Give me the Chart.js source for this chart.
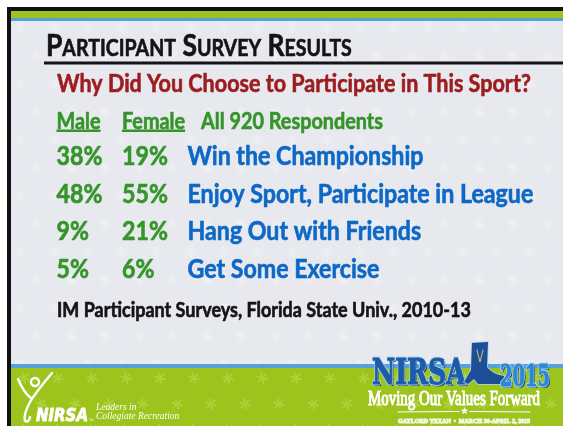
<!DOCTYPE html>
<html><head><meta charset="utf-8">
<script src="https://cdn.jsdelivr.net/npm/chart.js@4.4.1/dist/chart.umd.min.js"></script>
<style>html,body{margin:0;padding:0;background:#fff;overflow:hidden}#wrap{width:563px;height:426px}canvas{display:block}</style>
</head><body><div id="wrap"><canvas id="c" width="563" height="426"></canvas></div>
<script>
// ---------- data ----------
const titleText = 'Participant Survey Results';
const questionText = 'Why Did You Choose to Participate in This Sport?';
const columnLabels = ['Male', 'Female', 'All 920 Respondents'];
const reasons = ['Win the Championship', 'Enjoy Sport, Participate in League', 'Hang Out with Friends', 'Get Some Exercise'];
const malePct = [38, 48, 9, 5];
const femalePct = [19, 55, 21, 6];
const sourceText = 'IM Participant Surveys, Florida State Univ., 2010-13';

// ---------- style ----------
const FAM = 'Lato, "Open Sans", sans-serif';
const GREEN = '#35952a', BLUE = '#0d68c6', RED = '#9c1c1f', INK = '#141414';
const BG = '#e7e9ee', LIME = '#9cc41d', SKY = '#56a0db';
const SY = 1.12; // vertical stretch to mimic the taller original face
const BOLDEN = 0.55;

const mctx = document.createElement('canvas').getContext('2d');
function fit(text, weight, family, width) {
  mctx.font = `${weight} 100px ${family}`;
  return 100 * width / mctx.measureText(text).width;
}
function capText(ctx, text, x, yC, font, color) {
  ctx.font = font; ctx.fillStyle = color; ctx.strokeStyle = color; ctx.lineWidth = BOLDEN; ctx.lineJoin = 'round';
  ctx.textAlign = 'left'; ctx.textBaseline = 'alphabetic';
  const capH = ctx.measureText('H').actualBoundingBoxAscent * SY;
  ctx.save(); ctx.translate(x, yC + capH / 2); ctx.scale(1, SY);
  ctx.fillText(text, 0, 0); ctx.strokeText(text, 0, 0); ctx.restore();
  return ctx.measureText(text).width;
}
function smallCaps(ctx, text, x, yC, size, ratio, family, color, draw) {
  ctx.save();
  ctx.fillStyle = color; ctx.strokeStyle = color; ctx.lineWidth = BOLDEN; ctx.lineJoin = 'round';
  ctx.textAlign = 'left'; ctx.textBaseline = 'alphabetic';
  ctx.font = `bold ${size}px ${family}`;
  const capH = ctx.measureText('H').actualBoundingBoxAscent * SY;
  ctx.translate(0, yC + capH / 2); ctx.scale(1, SY);
  let cx = x;
  const put = (s) => { if (draw) { ctx.fillText(s, cx, 0); ctx.strokeText(s, cx, 0); } cx += ctx.measureText(s).width; };
  text.split(' ').forEach((w, wi) => {
    ctx.font = `bold ${size}px ${family}`;
    if (wi > 0) cx += ctx.measureText(' ').width;
    put(w[0].toUpperCase());
    ctx.font = `bold ${size * ratio}px ${family}`;
    put(w.slice(1).toUpperCase());
  });
  ctx.restore();
  return cx - x;
}
const SC_RATIO = 0.74;
const titleSize = 100 * 306 / smallCaps(mctx, titleText, 0, 0, 100, SC_RATIO, FAM, '#000', false);
const questionSize = fit(questionText, 'bold', FAM, 474);
const rowSize = fit(reasons[1], 'bold', FAM, 346);
const headSize = fit(columnLabels[2], 'bold', FAM, 182);
const sourceSize = fit(sourceText, 'bold', FAM, 414);

function star(ctx, x, y, r) {
  ctx.beginPath();
  for (let k = 0; k < 3; k++) {
    const a = k * Math.PI / 3 + 0.3;
    ctx.moveTo(x - r * Math.cos(a), y - r * Math.sin(a));
    ctx.lineTo(x + r * Math.cos(a), y + r * Math.sin(a));
  }
  ctx.stroke();
}
function star5(ctx, x, y, R, r) {
  ctx.beginPath();
  for (let k = 0; k < 10; k++) {
    const a = -Math.PI / 2 + k * Math.PI / 5, rr = k % 2 ? r : R;
    ctx.lineTo(x + rr * Math.cos(a), y + rr * Math.sin(a));
  }
  ctx.closePath(); ctx.fill();
}

const slidePlugin = {
  id: 'slide',
  beforeDraw(chart) {
    const ctx = chart.ctx, W = chart.width, H = chart.height;
    ctx.save();
    ctx.fillStyle = '#fff'; ctx.fillRect(0, 0, W, H);
    ctx.fillStyle = '#111'; ctx.fillRect(7, 7, W - 7, H - 7);
    ctx.fillStyle = BG; ctx.fillRect(11, 11, W - 11, H - 11);
    // faint pattern on body
    ctx.strokeStyle = 'rgba(255,255,255,0.28)'; ctx.lineWidth = 2; ctx.lineCap = 'round';
    for (let r = 0, y = 28; y < 370; y += 28, r++)
      for (let x = 20 + (r % 2) * 17; x < W; x += 34) star(ctx, x, y, 5);
    // top bands
    ctx.fillStyle = LIME; ctx.fillRect(11, 11, W - 11, 7);
    ctx.fillStyle = SKY; ctx.fillRect(11, 18, W - 11, 3);
    // bottom bands
    ctx.fillStyle = SKY; ctx.fillRect(11, 364, W - 11, 4);
    ctx.fillStyle = LIME; ctx.fillRect(11, 368, W - 11, H - 368);
    ctx.strokeStyle = 'rgba(185,220,80,0.55)';
    for (let r = 0, y = 378; y < H + 10; y += 26, r++)
      for (let x = 24 + (r % 2) * 17; x < W; x += 34) star(ctx, x, y, 5);
    ctx.restore();
  },
  afterDatasetsDraw(chart) {
    const ctx = chart.ctx, xs = chart.scales.x, ys = chart.scales.y;
    const col = k => xs.getPixelForValue(k);
    const row = k => ys.getPixelForValue(k);
    ctx.save();
    // title
    const ty = row(-2);
    smallCaps(ctx, titleText, col(0) - 10, ty, titleSize, SC_RATIO, FAM, INK, true);
    ctx.fillStyle = INK; ctx.fillRect(col(0) - 12, ty + 16.5, chart.width, 3);
    // question
    capText(ctx, questionText, col(0) + 1, row(-1) + 1.5, `bold ${questionSize}px ${FAM}`, RED);
    // header
    const hy = row(0) + 1;
    columnLabels.forEach((lab, k) => {
      const x = col(k) + (k === 2 ? 14 : 0.5);
      const w = capText(ctx, lab, x, hy, `bold ${headSize}px ${FAM}`, GREEN);
      if (k < 2) { ctx.fillStyle = GREEN; ctx.fillRect(x, hy + 8.5, w, 2.5); }
    });
    // table cells from the dataset elements
    const texts = [malePct.map(v => v + '%'), femalePct.map(v => v + '%'), reasons];
    const colors = [GREEN, GREEN, BLUE];
    chart.data.datasets.forEach((ds, di) => {
      chart.getDatasetMeta(di).data.forEach((el, i) => {
        capText(ctx, texts[di][i], el.x + 0.5, el.y - 2, `bold ${rowSize}px ${FAM}`, colors[di]);
      });
    });
    // source
    capText(ctx, sourceText, col(0) + 1, row(5) + 2, `bold ${sourceSize}px ${FAM}`, INK);
    ctx.restore();
  },
  afterDraw(chart) {
    const ctx = chart.ctx;
    ctx.save();
    // left NIRSA logo
    ctx.strokeStyle = '#fff'; ctx.fillStyle = '#fff'; ctx.lineWidth = 2.4; ctx.lineCap = 'round';
    ctx.beginPath(); ctx.arc(35, 382, 4, 0, Math.PI * 2); ctx.stroke();
    ctx.beginPath(); ctx.moveTo(18, 379); ctx.quadraticCurveTo(24, 393, 31, 398); ctx.stroke();
    ctx.beginPath(); ctx.moveTo(52, 373); ctx.quadraticCurveTo(36, 392, 30, 402);
    ctx.quadraticCurveTo(23, 415, 25, 421); ctx.quadraticCurveTo(29, 423, 30, 417); ctx.stroke();
    ctx.font = `italic bold ${fit('NIRSA', 'italic bold', '"DejaVu Sans"', 52)}px "DejaVu Sans"`;
    ctx.textBaseline = 'alphabetic'; ctx.textAlign = 'left';
    ctx.lineWidth = 0.8; ctx.lineJoin = 'round';
    ctx.save(); ctx.translate(36, 421); ctx.scale(1, 1.2); ctx.fillText('NIRSA', 0, 0); ctx.strokeText('NIRSA', 0, 0); ctx.restore();
    ctx.font = '3px "DejaVu Sans"'; ctx.fillText('TM', 89, 421);
    ctx.font = 'italic 9.5px "Liberation Serif"';
    ctx.fillText('Leaders in', 96, 410);
    ctx.fillText('Collegiate Recreation', 96, 419);
    // right NIRSA 2015 logo
    const drawSquashed = (txt, x, base, font, width, fill, stroke, shadow, sy) => {
      ctx.font = font;
      const sx = width / ctx.measureText(txt).width;
      ctx.save(); ctx.translate(x, base); ctx.scale(sx, sy || 1);
      if (shadow) { ctx.fillStyle = shadow; ctx.fillText(txt, 1.5 / sx, 1.8); }
      if (stroke) { ctx.strokeStyle = stroke; ctx.lineWidth = 2.6; ctx.lineJoin = 'round'; ctx.strokeText(txt, 0, 0); }
      ctx.fillStyle = fill; ctx.fillText(txt, 0, 0);
      ctx.strokeStyle = fill; ctx.lineWidth = 1; ctx.strokeText(txt, 0, 0);
      ctx.restore();
    };
    drawSquashed('NIRSA', 372, 384, 'bold 32px "DejaVu Serif"', 94, '#1d5bab', '#a9d3f2', '#0c2e66', 1.12);
    // boot
    ctx.fillStyle = '#1d4f98'; ctx.strokeStyle = '#a9d3f2'; ctx.lineWidth = 1.5;
    ctx.beginPath();
    ctx.moveTo(472, 343); ctx.lineTo(488, 342); ctx.lineTo(487, 367);
    ctx.quadraticCurveTo(492, 374, 504, 376); ctx.lineTo(505, 384);
    ctx.lineTo(478, 384); ctx.lineTo(474, 379); ctx.lineTo(468, 384); ctx.lineTo(464, 382);
    ctx.lineTo(471, 370); ctx.closePath(); ctx.stroke(); ctx.fill();
    ctx.strokeStyle = '#d8c66a'; ctx.lineWidth = 1;
    ctx.beginPath(); ctx.moveTo(477, 350); ctx.lineTo(480, 362); ctx.lineTo(483, 350); ctx.stroke();
    drawSquashed('2015', 500, 386, 'bold 27px "DejaVu Serif"', 50, '#2f86d3', '#b8ddf5', '#164a8c', 1.08);
    drawSquashed('Moving Our Values Forward', 368, 405, '19px "Liberation Serif"', 172, '#fff', null, null, 1.05);
    ctx.strokeStyle = '#fff'; ctx.lineWidth = 1;
    ctx.beginPath(); ctx.moveTo(398, 412); ctx.lineTo(459, 411.5); ctx.moveTo(470, 411.5); ctx.lineTo(530, 412); ctx.stroke();
    ctx.fillStyle = '#fff'; star5(ctx, 464.5, 411, 4, 1.7);
    drawSquashed('GAYLORD TEXAN  •  MARCH 30-APRIL 2, 2015', 398, 423, 'bold 6px "Liberation Serif"', 132, '#f3f7e6', null, null);
    ctx.restore();
  }
};

const pointStyle = { pointRadius: 0, pointHoverRadius: 0, showLine: false };
new Chart(document.getElementById('c'), {
  type: 'scatter',
  data: {
    datasets: [
      { label: columnLabels[0], data: malePct.map((v, i) => ({ x: 0, y: i + 1 })), ...pointStyle },
      { label: columnLabels[1], data: femalePct.map((v, i) => ({ x: 1, y: i + 1 })), ...pointStyle },
      { label: columnLabels[2], data: reasons.map((r, i) => ({ x: 2, y: i + 1 })), ...pointStyle }
    ]
  },
  options: {
    responsive: false, animation: false, devicePixelRatio: 1,
    layout: { padding: { left: 56, right: 48.5, top: 45, bottom: 118.5 } },
    scales: {
      x: { type: 'linear', min: 0, max: 7, display: false },
      y: { type: 'linear', min: -2, max: 5, reverse: true, display: false }
    },
    plugins: { legend: { display: false }, tooltip: { enabled: false }, title: { display: false } },
    events: []
  },
  plugins: [slidePlugin]
});
</script>
</body></html>
